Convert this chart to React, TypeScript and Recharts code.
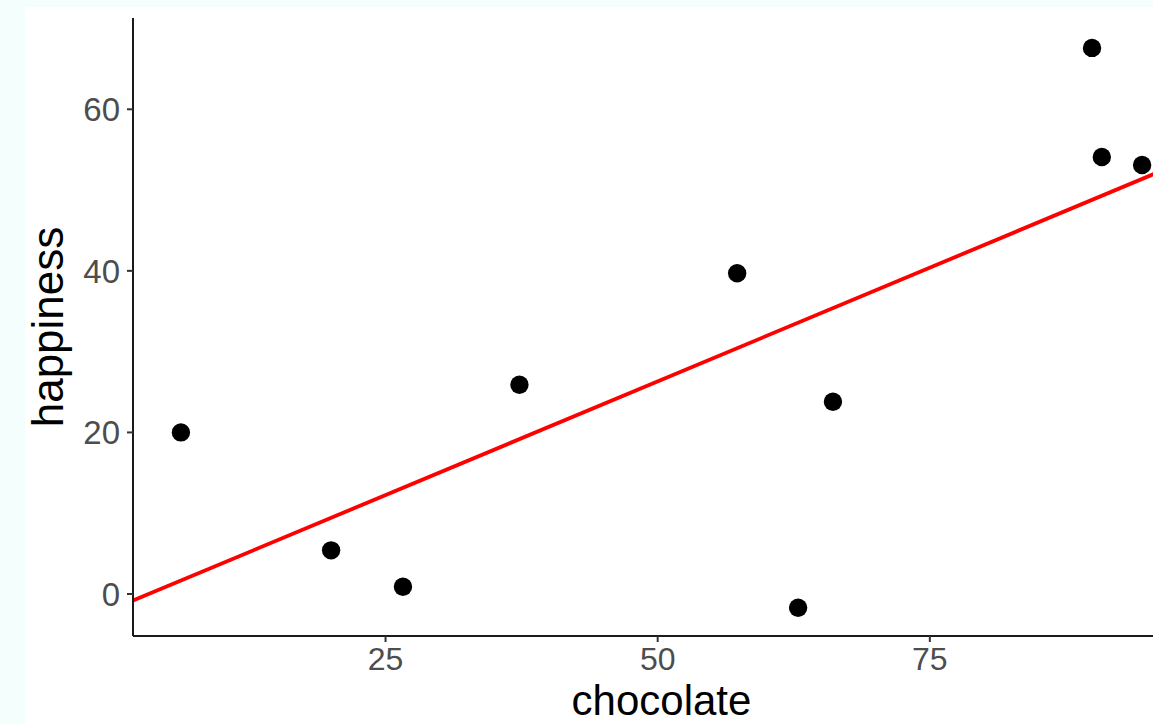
import React from 'react';
import { ScatterChart, Scatter, XAxis, YAxis, ReferenceLine } from 'recharts';

// Data
const chocolate = [6.2, 20.0, 26.6, 37.3, 57.3, 62.9, 66.1, 89.9, 90.8, 94.5];
const happiness = [20.0, 5.4, 0.9, 25.9, 39.7, -1.7, 23.8, 67.6, 54.1, 53.1];

const xTicks = [25, 50, 75];
const yTicks = [0, 20, 40, 60];
const xDomain: [number, number] = [1.8, 98.9];
const yDomain: [number, number] = [-5.2, 71.3];

// linear fit
const fitIntercept = -1.83;
const fitSlope = 0.563;

const points = chocolate.map((c, i) => ({ chocolate: c, happiness: happiness[i] }));
const fitSegment = [
  { x: xDomain[0], y: fitIntercept + fitSlope * xDomain[0] },
  { x: xDomain[1], y: fitIntercept + fitSlope * xDomain[1] },
];

const FONT = '"Liberation Sans", Arial, Helvetica, sans-serif';

const Dot = (props: any) => <circle cx={props.cx} cy={props.cy} r={9.2} fill="#000" />;

const renderYLabel = (props: any) => {
  const vb = props.viewBox || {};
  const cx = 63;
  const cy = (vb.y ?? 0) + (vb.height ?? 0) / 2;
  return (
    <text
      x={cx}
      y={cy}
      transform={`rotate(-90 ${cx} ${cy})`}
      textAnchor="middle"
      fontSize={44}
      fontFamily={FONT}
      fill="#000"
    >
      happiness
    </text>
  );
};

export default function App() {
  return (
    <div
      style={{
        position: 'fixed',
        left: 0,
        top: 0,
        width: 1153,
        height: 724,
        overflow: 'hidden',
        background: '#f4fefd',
      }}
    >
      <div
        style={{
          position: 'absolute',
          left: 25,
          top: 7,
          width: 1200,
          height: 800,
          background: '#ffffff',
        }}
      />
      <div style={{ position: 'absolute', left: 0, top: 0 }}>
        <ScatterChart
          width={1200}
          height={724}
          margin={{ top: 18, right: 10, bottom: 0, left: 0 }}
          style={{ fontFamily: FONT }}
        >
          <XAxis
            type="number"
            dataKey="chocolate"
            domain={xDomain}
            ticks={xTicks}
            allowDataOverflow
            height={88}
            axisLine={{ stroke: '#1a1a1a', strokeWidth: 2 }}
            tickLine={{ stroke: '#333333', strokeWidth: 2 }}
            tickSize={6}
            tickMargin={5}
            tick={{ fill: '#4d4d4d', fontSize: 32, fontFamily: FONT }}
            label={{
              value: 'chocolate',
              position: 'insideBottom',
              offset: 9,
              fontSize: 42,
              fill: '#000',
              fontFamily: FONT,
            }}
          />
          <YAxis
            type="number"
            dataKey="happiness"
            domain={yDomain}
            ticks={yTicks}
            allowDataOverflow
            width={133}
            axisLine={{ stroke: '#1a1a1a', strokeWidth: 2 }}
            tickLine={{ stroke: '#333333', strokeWidth: 2 }}
            tickSize={6}
            tickMargin={7}
            tick={{ fill: '#4d4d4d', fontSize: 33, fontFamily: FONT }}
            label={renderYLabel}
          />
          <ReferenceLine
            segment={fitSegment}
            stroke="#ff0000"
            strokeWidth={3.8}
            ifOverflow="visible"
          />
          <Scatter data={points} shape={Dot} isAnimationActive={false} />
        </ScatterChart>
      </div>
    </div>
  );
}
